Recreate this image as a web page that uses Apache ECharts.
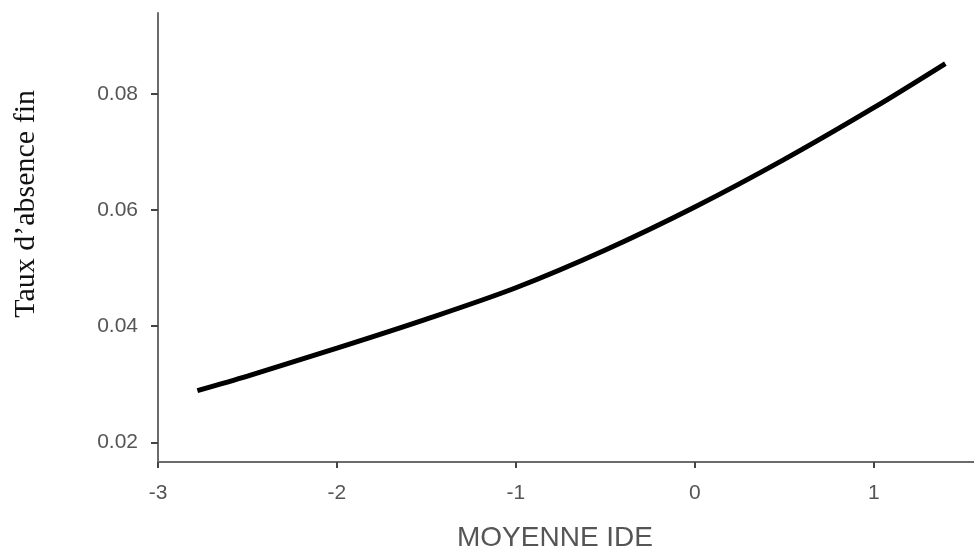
<!DOCTYPE html>
<html>
<head>
<meta charset="utf-8">
<script src="https://cdn.jsdelivr.net/npm/echarts@6/dist/echarts.min.js"></script>
<style>
  html, body { margin: 0; padding: 0; background: #fff; }
  #chart { width: 974px; height: 557px; }
</style>
</head>
<body>
<div id="chart"></div>
<script>
// values
var moyenneIde = [-2.78, -2.5, -2, -1.5, -1, -0.5, 0, 0.5, 1, 1.4];
var tauxAbsence = [0.0289, 0.0314, 0.0362, 0.0412, 0.0466, 0.0531, 0.0605, 0.0687, 0.0776, 0.0852];
var xTicks = [-3, -2, -1, 0, 1];
var yTicks = [0.02, 0.04, 0.06, 0.08];

var chart = echarts.init(document.getElementById('chart'));

var points = moyenneIde.map(function (x, i) { return [x, tauxAbsence[i]]; });

var axisColor = '#6b6b6b';
var labelColor = '#555';

var option = {
    animation: false,
    grid: {
        left: 158,
        right: 0,
        top: 13,
        bottom: 93
    },
    xAxis: {
        type: 'value',
        min: -3,
        max: 1.56,
        name: 'MOYENNE IDE',
        nameLocation: 'middle',
        nameGap: 62,
        nameTextStyle: {
            fontFamily: 'Liberation Sans',
            fontSize: 28,
            color: '#555',
            padding: [0, 22, 0, 0]
        },
        splitLine: { show: false },
        axisLine: { onZero: false, lineStyle: { color: axisColor, width: 2 } },
        axisTick: {
            customValues: xTicks,
            length: 6,
            lineStyle: { color: '#444', width: 2 }
        },
        axisLabel: {
            customValues: xTicks,
            margin: 21,
            fontFamily: 'Liberation Sans',
            fontSize: 21,
            color: labelColor
        }
    },
    yAxis: {
        type: 'value',
        min: 0.0166,
        max: 0.0939,
        splitLine: { show: false },
        axisLine: { show: true, onZero: false, lineStyle: { color: axisColor, width: 2 } },
        axisTick: {
            show: true,
            customValues: yTicks,
            length: 7,
            lineStyle: { color: '#444', width: 2 }
        },
        axisLabel: {
            customValues: yTicks,
            margin: 20,
            fontFamily: 'Liberation Sans',
            fontSize: 21,
            color: labelColor,
            formatter: function (v) { return v.toFixed(2); }
        }
    },
    graphic: [{
        type: 'text',
        left: 11,
        top: 90,
        rotation: Math.PI / 2,
        style: {
            text: 'Taux d\u2019absence fin',
            fontFamily: 'Liberation Serif',
            fontSize: 30,
            fill: '#111'
        }
    }],
    series: [{
        type: 'line',
        data: points,
        smooth: 0.3,
        showSymbol: false,
        lineStyle: { color: '#000', width: 5, cap: 'butt' }
    }]
};
chart.setOption(option);
</script>
</body>
</html>
